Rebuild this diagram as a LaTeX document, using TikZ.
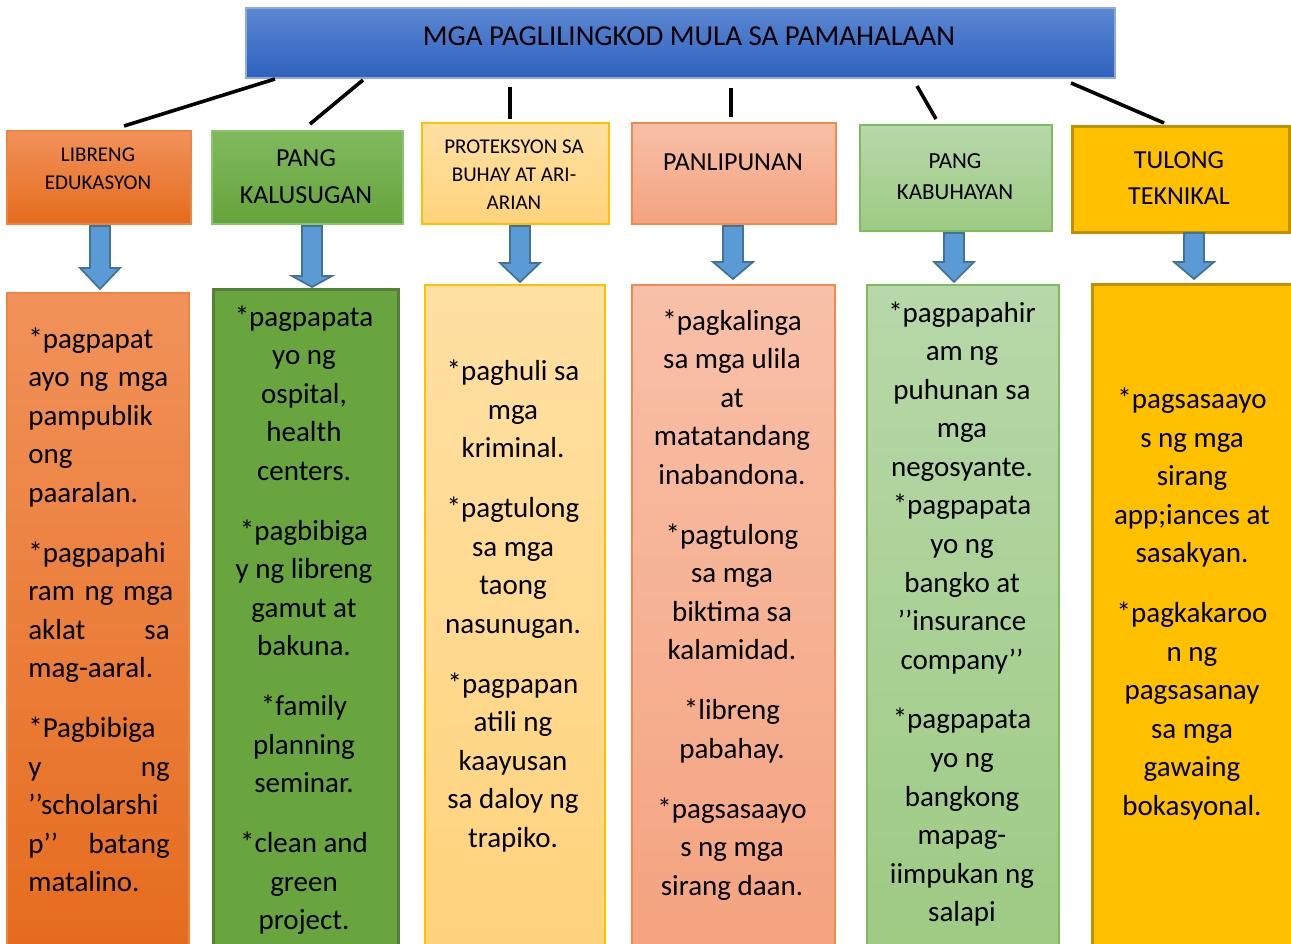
\documentclass[tikz,border=0pt]{standalone}
\usepackage{fontspec}
\setmainfont{Carlito}

\definecolor{titletop}{HTML}{5B87D2}
\definecolor{titlebot}{HTML}{2F62BE}
\definecolor{titleline}{HTML}{8EA9DB}
\definecolor{orangetop}{HTML}{F1925A}
\definecolor{orangebot}{HTML}{E56B1C}
\definecolor{orangeline}{HTML}{F0843F}
\definecolor{greentop}{HTML}{80BA5E}
\definecolor{greenbot}{HTML}{65A33B}
\definecolor{greenline}{HTML}{8CC46C}
\definecolor{greendark}{HTML}{548235}
\definecolor{creamtop}{HTML}{FFE0A3}
\definecolor{creambot}{HTML}{FFD37C}
\definecolor{goldline}{HTML}{FFC000}
\definecolor{salmontop}{HTML}{F8C0A8}
\definecolor{salmonbot}{HTML}{F4A37F}
\definecolor{salmonline}{HTML}{F08A4E}
\definecolor{mintop}{HTML}{B7D8A9}
\definecolor{minbot}{HTML}{9DCA83}
\definecolor{minline}{HTML}{7FBA5D}
\definecolor{gold}{HTML}{FFC000}
\definecolor{golddark}{HTML}{BF9000}
\definecolor{arrowfill}{HTML}{5B9BD5}
\definecolor{arrowline}{HTML}{41719C}

\tikzset{every picture/.style={line width=0.75pt}}
\tikzset{
	box/.style={anchor=north west, inner sep=0pt, draw, line width=1.2pt},
	txt/.style={align=center, inner sep=0pt},
	bodytxt/.style={align=center, inner sep=0pt, font=\fontsize{21.75}{28.9}\selectfont},
	link/.style={line width=2.7pt},
	barrow/.style={fill=arrowfill, draw=arrowline, line width=1.3pt, line join=miter}}

% block arrow: x centre, top, neck, tip
\newcommand{\blockarr}[4]{\draw[barrow] (#1-10,#2) -- (#1+10,#2) -- (#1+10,#3) -- (#1+20,#3) -- (#1,#4) -- (#1-20,#3) -- (#1-10,#3) -- cycle;}

\begin{document}
\begin{tikzpicture}[x=0.75pt,y=0.75pt,yscale=-1,xscale=1]
	\useasboundingbox (0,0) rectangle (1291,944);

	%Title
	\node[box, top color=titletop, bottom color=titlebot, draw=titleline, minimum width=869*0.75pt, minimum height=70*0.75pt] (title) at (245,7) {};
	\node[txt, font=\fontsize{21.7}{25}\selectfont] (titletext) at (689,36) {MGA PAGLILINGKOD MULA SA PAMAHALAAN};

	%Category boxes
	\node[box, top color=orangetop, bottom color=orangebot, draw=orangeline, minimum width=184*0.75pt, minimum height=93*0.75pt] (edu) at (6,130) {};
	\node[box, top color=greentop, bottom color=greenbot, draw=greenline, minimum width=191*0.75pt, minimum height=93*0.75pt] (kal) at (211,130) {};
	\node[box, top color=creamtop, bottom color=creambot, draw=goldline, line width=1.6pt, minimum width=187*0.75pt, minimum height=101*0.75pt] (prot) at (421,122) {};
	\node[box, top color=salmontop, bottom color=salmonbot, draw=salmonline, minimum width=204*0.75pt, minimum height=101*0.75pt] (panl) at (631,122) {};
	\node[box, top color=mintop, bottom color=minbot, draw=minline, minimum width=192*0.75pt, minimum height=106*0.75pt] (kab) at (859,124) {};
	\node[box, fill=gold, draw=golddark, line width=2.2pt, minimum width=217*0.75pt, minimum height=106*0.75pt] (tek) at (1071,125) {};

	% Text Node
	\node[txt, font=\fontsize{15.75}{21}\selectfont] (edutext) at (98,169) {LIBRENG\\EDUKASYON};
	\node[txt, font=\fontsize{19.5}{27.75}\selectfont] (kaltext) at (306,177) {PANG\\KALUSUGAN};
	\node[txt, font=\fontsize{15.75}{21}\selectfont] (prottext) at (514,175) {PROTEKSYON SA\\BUHAY AT ARI-\\ARIAN};
	\node[txt, font=\fontsize{19.5}{27}\selectfont] (panltext) at (733,162) {PANLIPUNAN};
	\node[txt, font=\fontsize{17.25}{23.25}\selectfont] (kabtext) at (955,177) {PANG\\KABUHAYAN};
	\node[txt, font=\fontsize{19.5}{27}\selectfont] (tektext) at (1179,178) {TULONG\\TEKNIKAL};

	%Connectors
	\coordinate (t1) at (275,79); \coordinate (c1) at (124,126);
	\coordinate (t2) at (363,80); \coordinate (c2) at (310,124);
	\coordinate (t3) at (510,87); \coordinate (c3) at (510,119);
	\coordinate (t4) at (731,88); \coordinate (c4) at (731,117);
	\coordinate (t5) at (917,86); \coordinate (c5) at (936,119);
	\coordinate (t6) at (1071,83); \coordinate (c6) at (1164,123);
	\foreach \i in {1,...,6}
		\draw[link] (t\i) -- (c\i);

	%Block arrows
	\blockarr{100}{226}{268}{289}
	\blockarr{312}{226}{276}{287}
	\blockarr{520}{226}{263}{282}
	\blockarr{733}{226}{262}{279}
	\blockarr{954}{233}{262}{282}
	\blockarr{1194}{233}{262}{279}

	%Body boxes
	\node[box, top color=orangetop, bottom color=orangebot, draw=orangeline, minimum width=182*0.75pt, minimum height=670*0.75pt] (edubody) at (6,292) {};
	\node[box, fill=greenbot!90!greentop, draw=greendark, line width=2pt, minimum width=185*0.75pt, minimum height=670*0.75pt] (kalbody) at (212,288) {};
	\node[box, top color=creamtop, bottom color=creambot, draw=goldline, line width=1.6pt, minimum width=180*0.75pt, minimum height=670*0.75pt] (protbody) at (424,284) {};
	\node[box, top color=salmontop, bottom color=salmonbot, draw=salmonline, minimum width=203*0.75pt, minimum height=670*0.75pt] (panlbody) at (631,284) {};
	\node[box, top color=mintop, bottom color=minbot, draw=minline, minimum width=192*0.75pt, minimum height=670*0.75pt] (kabbody) at (866,284) {};
	\node[box, fill=gold, draw=golddark, line width=2.2pt, minimum width=230*0.75pt, minimum height=670*0.75pt] (tekbody) at (1091,283) {};

	% Text Node
	\node[bodytxt, align=left, text width=106pt] (edulist) at (99,610) {*pagpapat\\\mbox{ayo ng mga}\\pampublik\\ong\\paaralan.\\[16pt]*pagpapahi\\\mbox{ram ng mga}\\aklat\hfill sa\\mag-aaral.\\[16pt]*Pagbibiga\\y\hfill ng\\’’scholarshi\\p’’\hfill batang\\matalino.};
	\node[bodytxt] (kallist) at (304,620) {*pagpapata\\yo ng\\ospital,\\health\\centers.\\[16pt]*pagbibiga\\y ng libreng\\gamut at\\bakuna.\\[16pt]*family\\planning\\seminar.\\[16pt]*clean and\\green\\project.};
	\node[bodytxt] (protlist) at (513,606) {*paghuli sa\\mga\\kriminal.\\[16pt]*pagtulong\\sa mga\\taong\\nasunugan.\\[16pt]*pagpapan\\atili ng\\kaayusan\\sa daloy ng\\trapiko.};
	\node[bodytxt] (panllist) at (732,605) {*pagkalinga\\sa mga ulila\\at\\matatandang\\inabandona.\\[16pt]*pagtulong\\sa mga\\biktima sa\\kalamidad.\\[16pt]*libreng\\pabahay.\\[16pt]*pagsasaayo\\s ng mga\\sirang daan.};
	\node[bodytxt] (kablist) at (962,614) {*pagpapahir\\am ng\\puhunan sa\\mga\\negosyante.\\*pagpapata\\yo ng\\bangko at\\’’insurance\\company’’\\[16pt]*pagpapata\\yo ng\\bangkong\\mapag-\\iimpukan ng\\salapi};
	\node[bodytxt] (teklist) at (1192,604) {*pagsasaayo\\s ng mga\\sirang\\app;iances at\\sasakyan.\\[16pt]*pagkakaroo\\n ng\\pagsasanay\\sa mga\\gawaing\\bokasyonal.};

\end{tikzpicture}
\end{document}
